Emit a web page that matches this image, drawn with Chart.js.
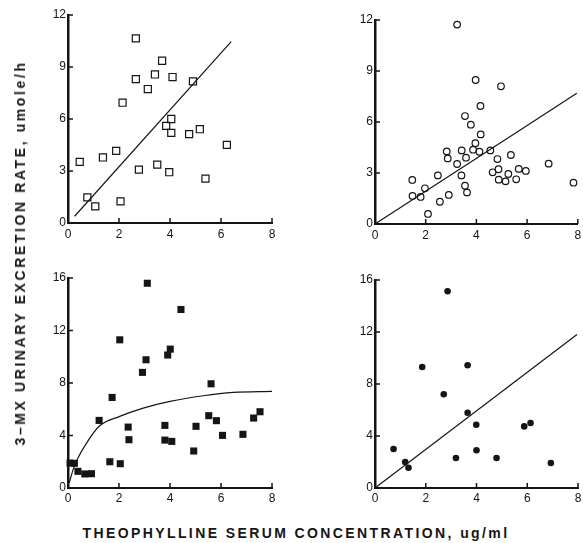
<!DOCTYPE html>
<html>
<head>
<meta charset="utf-8">
<script src="https://cdn.jsdelivr.net/npm/chart.js@4.4.1/dist/chart.umd.min.js"></script>
<style>
  body { margin: 0; background: #fff; }
  #page { position: relative; width: 583px; height: 543px; overflow: hidden; background: #fff; }
  .panel { position: absolute; }
  .title { position: absolute; white-space: nowrap; color: #151515;
           font: bold 14px "Liberation Sans", Arial, sans-serif; }
  #ytitle { left: 20px; top: 253px; letter-spacing: 2.6px;
            transform: translate(-50%, -50%) rotate(-90deg); }
  #xtitle { left: 296px; top: 533px; letter-spacing: 2.4px;
            transform: translate(-50%, -50%); }
</style>
</head>
<body>
<div id="page">
  <div class="panel" style="left:0;top:0;width:300px;height:250px"><canvas id="ul"></canvas></div>
  <div class="panel" style="left:300px;top:0;width:283px;height:250px"><canvas id="ur"></canvas></div>
  <div class="panel" style="left:0;top:250px;width:300px;height:275px"><canvas id="ll"></canvas></div>
  <div class="panel" style="left:300px;top:250px;width:283px;height:275px"><canvas id="lr"></canvas></div>
  <div class="title" id="ytitle">3–MX URINARY EXCRETION RATE, umole/h</div>
  <div class="title" id="xtitle">THEOPHYLLINE SERUM CONCENTRATION, ug/ml</div>
</div>
<script>
// serum concentration axis, shared by all panels
const xTicks = [0, 2, 4, 6, 8];
const yTicksTop = [0, 3, 6, 9, 12];
const yTicksBottom = [0, 4, 8, 12, 16];

// upper left: open squares
const ulX = [0.46, 1.37, 1.89, 2.14, 2.66, 2.66, 3.13, 3.41, 3.69, 4.10, 4.05, 3.85, 4.05, 4.75, 5.17, 6.23, 5.39, 3.97, 3.50, 2.78, 2.06, 0.76, 1.07, 4.90];
const ulY = [3.53, 3.78, 4.16, 6.94, 10.65, 8.30, 7.73, 8.57, 9.36, 8.42, 6.00, 5.60, 5.20, 5.13, 5.41, 4.51, 2.56, 2.93, 3.37, 3.08, 1.25, 1.48, 0.96, 8.17];
const ulFitX = [0.26, 6.40];
const ulFitY = [0.39, 10.46];

// upper right: open circles
const urX = [3.24, 3.97, 4.97, 4.16, 3.55, 3.78, 4.17, 3.96, 3.87, 4.12, 3.42, 2.83, 2.87, 3.24, 3.59, 4.55, 4.83, 5.36, 4.87, 4.64, 4.88, 5.15, 5.26, 5.57, 5.67, 5.95, 6.85, 7.83, 3.41, 3.55, 3.63, 2.48, 1.97, 1.47, 1.48, 1.80, 2.56, 2.91, 2.09];
const urY = [11.73, 8.47, 8.10, 6.94, 6.35, 5.84, 5.27, 4.75, 4.37, 4.25, 4.33, 4.27, 3.86, 3.53, 3.90, 4.33, 3.82, 4.06, 3.22, 3.04, 2.61, 2.51, 2.94, 2.63, 3.24, 3.12, 3.55, 2.43, 2.86, 2.25, 1.86, 2.86, 2.10, 2.59, 1.65, 1.59, 1.31, 1.71, 0.59];
const urFitX = [0, 7.96];
const urFitY = [0, 7.69];

// lower left: filled squares
const llX = [3.11, 4.43, 2.03, 4.01, 3.91, 3.06, 2.92, 5.61, 1.73, 1.22, 2.36, 2.39, 3.80, 3.80, 4.07, 5.02, 4.93, 5.52, 5.82, 6.06, 6.86, 7.28, 7.53, 1.64, 2.05, 0.08, 0.25, 0.39, 0.66, 0.92];
const llY = [15.6, 13.6, 11.29, 10.58, 10.13, 9.77, 8.81, 7.94, 6.90, 5.15, 4.64, 3.68, 4.77, 3.65, 3.55, 4.70, 2.82, 5.51, 5.13, 4.01, 4.09, 5.33, 5.81, 2.00, 1.85, 1.90, 1.88, 1.27, 1.07, 1.09];
const llFitX = [0.05, 0.20, 0.39, 0.72, 1.22, 2.03, 2.95, 4.00, 5.31, 6.49, 8.00];
const llFitY = [0.40, 1.40, 2.28, 3.40, 4.70, 5.46, 6.09, 6.60, 7.03, 7.28, 7.36];

// lower right: filled circles
const lrX = [2.86, 1.86, 3.65, 2.71, 3.65, 3.99, 5.88, 6.13, 0.73, 1.19, 1.32, 3.19, 4.00, 4.79, 6.93];
const lrY = [15.13, 9.31, 9.44, 7.21, 5.79, 4.87, 4.74, 5.00, 3.00, 2.00, 1.56, 2.31, 2.90, 2.31, 1.92];
const lrFitX = [0, 7.96];
const lrFitY = [0, 11.8];

const ink = '#151515';
const tickFont = { family: '"Liberation Sans", Arial, sans-serif', size: 12 };

function zip(xs, ys) {
  return xs.map((x, i) => ({ x: x, y: ys[i] }));
}

// short tick marks pointing into the plot area
const innerTicks = {
  id: 'innerTicks',
  afterDraw(chart) {
    const { ctx, chartArea: a, scales } = chart;
    ctx.save();
    ctx.strokeStyle = ink;
    ctx.lineWidth = 1.5;
    ctx.beginPath();
    scales.x.ticks.forEach(t => {
      if (t.value === 0) return;
      const px = scales.x.getPixelForValue(t.value);
      ctx.moveTo(px, a.bottom);
      ctx.lineTo(px, a.bottom - 5);
    });
    scales.y.ticks.forEach(t => {
      if (t.value === 0) return;
      const py = scales.y.getPixelForValue(t.value);
      ctx.moveTo(a.left, py);
      ctx.lineTo(a.left + 5, py);
    });
    ctx.stroke();
    ctx.restore();
  }
};

function makePanel(id, opt) {
  const yTicks = opt.yTicks;
  new Chart(document.getElementById(id), {
    type: 'scatter',
    data: {
      datasets: [
        {
          data: zip(opt.xs, opt.ys),
          pointStyle: opt.style,
          pointRadius: opt.radius,
          borderWidth: opt.filled ? 0 : 1.2,
          borderColor: ink,
          backgroundColor: opt.filled ? ink : 'rgba(0,0,0,0)',
          clip: false
        },
        {
          data: zip(opt.fitX, opt.fitY),
          showLine: true,
          pointRadius: 0,
          borderColor: ink,
          borderWidth: 1.2,
          cubicInterpolationMode: 'monotone',
          clip: false
        }
      ]
    },
    options: {
      responsive: true,
      maintainAspectRatio: false,
      animation: false,
      layout: { padding: { left: 0, top: opt.top, right: opt.right, bottom: 0 } },
      plugins: { legend: { display: false }, tooltip: { enabled: false } },
      scales: {
        x: {
          type: 'linear', min: 0, max: 8,
          afterBuildTicks: s => { s.ticks = xTicks.map(v => ({ value: v })); },
          ticks: { color: ink, font: tickFont, padding: opt.xPad, maxRotation: 0 },
          grid: { display: false, drawTicks: false },
          border: { display: true, color: ink, width: 2 },
          afterFit: s => { s.height = opt.xH; s.paddingLeft = 0; s.paddingRight = 0; }
        },
        y: {
          type: 'linear', min: 0, max: yTicks[yTicks.length - 1],
          afterBuildTicks: s => { s.ticks = yTicks.map(v => ({ value: v })); },
          ticks: { color: ink, font: tickFont, padding: 2 },
          grid: { display: false, drawTicks: false },
          border: { display: true, color: ink, width: 2.5 },
          afterFit: s => { s.width = opt.yW; s.paddingTop = 0; s.paddingBottom = 0; }
        }
      }
    },
    plugins: [innerTicks]
  });
}

makePanel('ul', { xs: ulX, ys: ulY, fitX: ulFitX, fitY: ulFitY, style: 'rect', radius: 5, filled: false,
  yTicks: yTicksTop, top: 15, right: 28, yW: 68, xH: 27, xPad: 4 });
makePanel('ur', { xs: urX, ys: urY, fitX: urFitX, fitY: urFitY, style: 'circle', radius: 3.3, filled: false,
  yTicks: yTicksTop, top: 20, right: 5, yW: 75, xH: 26, xPad: 4 });
makePanel('ll', { xs: llX, ys: llY, fitX: llFitX, fitY: llFitY, style: 'rect', radius: 5, filled: true,
  yTicks: yTicksBottom, top: 28, right: 28, yW: 68, xH: 37, xPad: 3 });
makePanel('lr', { xs: lrX, ys: lrY, fitX: lrFitX, fitY: lrFitY, style: 'circle', radius: 3.3, filled: true,
  yTicks: yTicksBottom, top: 30, right: 5, yW: 75, xH: 37, xPad: 3 });
</script>
</body>
</html>
